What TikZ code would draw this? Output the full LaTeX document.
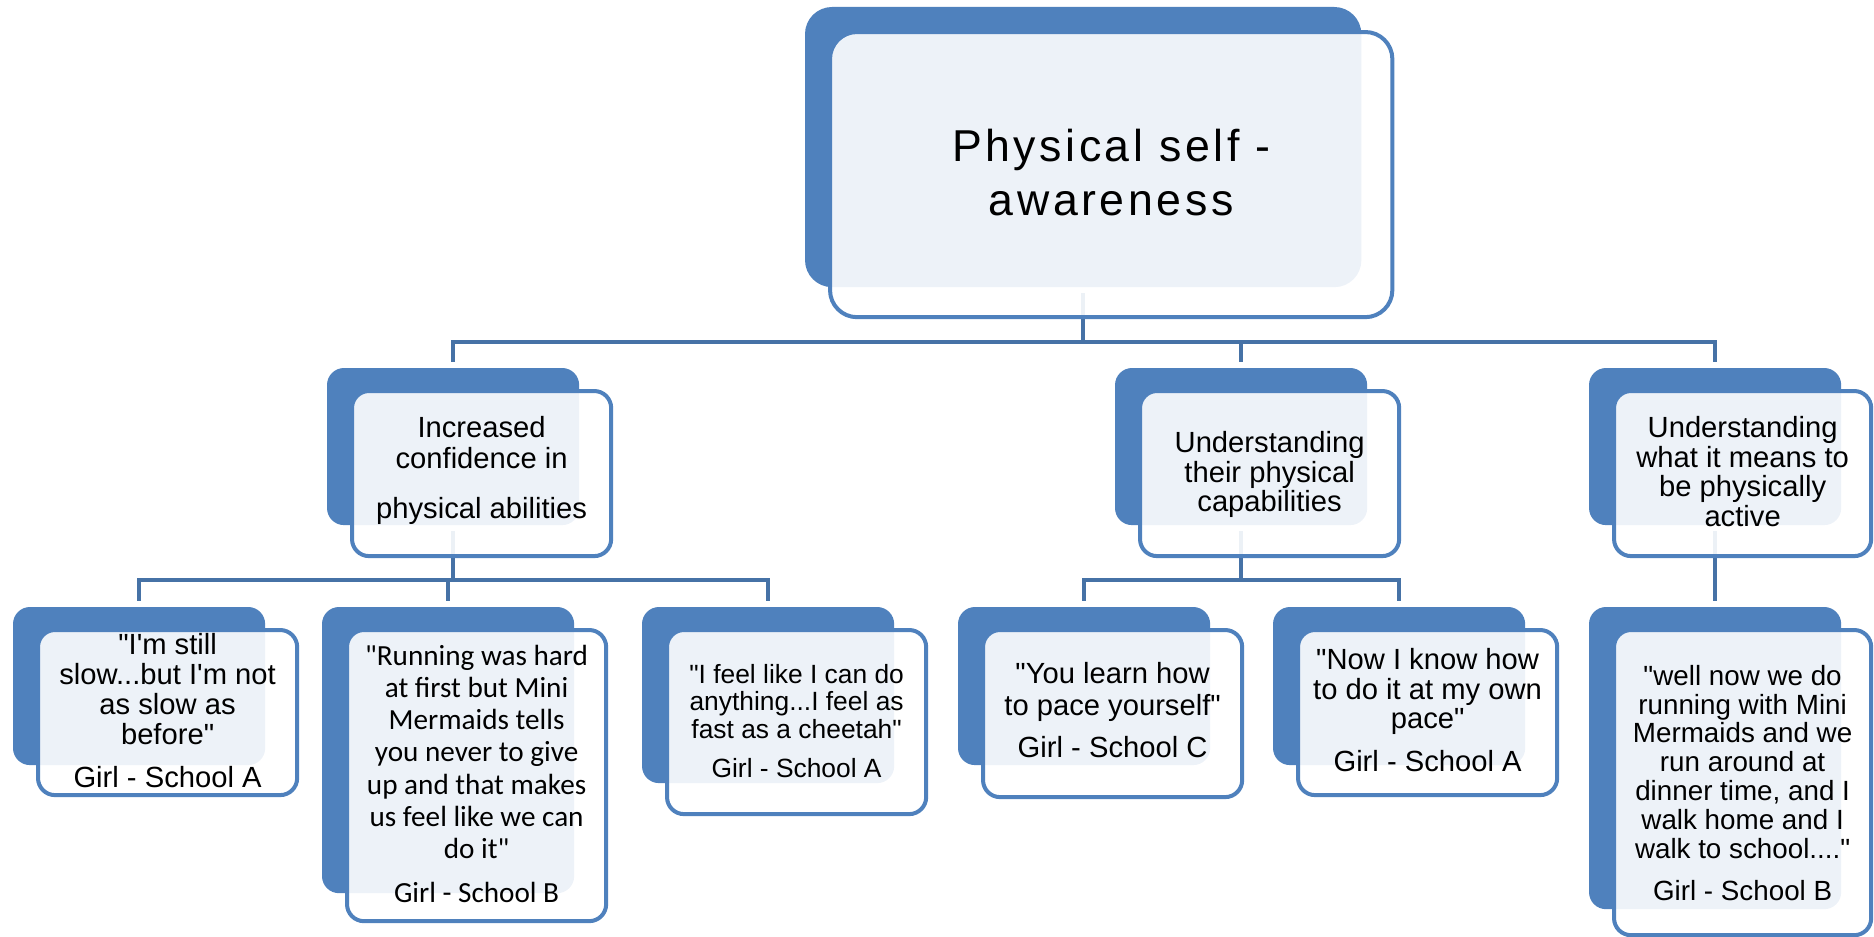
\documentclass[tikz,border=0pt]{standalone}
\usepackage{fontspec}
\newfontfamily\arialfont{Liberation Sans}
\newfontfamily\calibrifont{Carlito}
\newfontfamily\titlefont[LetterSpace=8]{Liberation Sans}
\usetikzlibrary{positioning}
\definecolor{boxblue}{HTML}{4F81BD}
\tikzset{
  backbox/.style={fill=boxblue, rounded corners=0.17cm, minimum width=2.52cm, inner sep=0, outer sep=0, anchor=north west},
  frontbox/.style={draw=boxblue, line width=0.04cm, fill=white, fill opacity=0.9, rounded corners=0.17cm, minimum width=2.59cm, inner sep=0, outer sep=0},
  link/.style={draw=boxblue!88!black, line width=0.04cm, shorten <=0.06cm, shorten >=0.06cm},
  txt/.style={align=center, inner sep=0, outer sep=0, font=\arialfont\fontsize{8.3}{8.6}\selectfont},
}
\begin{document}
\begin{tikzpicture}[x=0.01cm, y=-0.01cm]
\useasboundingbox (0,0) rectangle (1874,937);
% back boxes
\node[backbox, rounded corners=0.27cm, minimum width=5.56cm, minimum height=2.80cm] (self-b) at (805,7) {};
\node[backbox, minimum height=1.57cm] (conf-b) at (327,368) {};
\node[backbox, minimum height=1.57cm] (capab-b) at (1115,368) {};
\node[backbox, minimum height=1.57cm] (active-b) at (1589,368) {};
\node[backbox, minimum height=1.58cm] (slow-b) at (13,607) {};
\node[backbox, minimum height=2.86cm] (hard-b) at (322,607) {};
\node[backbox, minimum height=1.76cm] (cheetah-b) at (642,607) {};
\node[backbox, minimum height=1.58cm] (pace-b) at (958,607) {};
\node[backbox, minimum height=1.58cm] (own-b) at (1273,607) {};
\node[backbox, minimum height=3.02cm] (walk-b) at (1589,607) {};
% connectors
\coordinate (self-bar) at ([yshift=-0.55cm]self-b.south);
\coordinate (conf-bar) at ([yshift=-0.55cm]conf-b.south);
\coordinate (capab-bar) at ([yshift=-0.55cm]capab-b.south);
\draw[link] (self-b.south) -- (self-bar) -| (conf-b.north);
\draw[link] (self-b.south) -- (self-bar) -| (capab-b.north);
\draw[link] (self-b.south) -- (self-bar) -| (active-b.north);
\draw[link] (conf-b.south) -- (conf-bar) -| (slow-b.north);
\draw[link] (conf-b.south) -- (conf-bar) -| (hard-b.north);
\draw[link] (conf-b.south) -- (conf-bar) -| (cheetah-b.north);
\draw[link] (capab-b.south) -- (capab-bar) -| (pace-b.north);
\draw[link] (capab-b.south) -- (capab-bar) -| (own-b.north);
\draw[link] (active-b.south) -- (walk-b.north);
% front boxes
\node[frontbox, rounded corners=0.27cm, minimum width=5.62cm, minimum height=2.85cm, below right=0.25cm and 0.25cm of self-b.north west] (self) {};
\node[frontbox, minimum height=1.65cm, below right=0.23cm and 0.25cm of conf-b.north west] (conf) {};
\node[frontbox, minimum height=1.65cm, below right=0.23cm and 0.25cm of capab-b.north west] (capab) {};
\node[frontbox, minimum width=2.57cm, minimum height=1.65cm, below right=0.23cm and 0.25cm of active-b.north west] (active) {};
\node[frontbox, minimum height=1.65cm, below right=0.23cm and 0.25cm of slow-b.north west] (slow) {};
\node[frontbox, minimum height=2.91cm, below right=0.23cm and 0.25cm of hard-b.north west] (hard) {};
\node[frontbox, minimum height=1.84cm, below right=0.23cm and 0.25cm of cheetah-b.north west] (cheetah) {};
\node[frontbox, minimum height=1.67cm, below right=0.23cm and 0.25cm of pace-b.north west] (pace) {};
\node[frontbox, minimum height=1.65cm, below right=0.23cm and 0.25cm of own-b.north west] (own) {};
\node[frontbox, minimum width=2.57cm, minimum height=3.05cm, below right=0.23cm and 0.25cm of walk-b.north west] (walk) {};
% texts
\node[txt, font=\titlefont\fontsize{12.7}{15.1}\selectfont, below=0.975cm of self.north] (self-t) {Physical self -\\awareness};
\node[txt, font=\arialfont\fontsize{8.3}{8.8}\selectfont, below=0.25cm of conf.north] (conf-t) {Increased\\confidence in\\[5.4pt]physical abilities};
\node[txt, font=\arialfont\fontsize{8.3}{8.5}\selectfont, below=0.40cm of capab.north] (capab-t) {Understanding\\their physical\\capabilities};
\node[txt, font=\arialfont\fontsize{8.3}{8.5}\selectfont, below=0.25cm of active.north] (active-t) {Understanding\\what it means to\\be physically\\active};
\node[txt, below=0.03cm of slow.north] (slow-t) {"I'm still\\slow...but I'm not\\as slow as\\before"\\[3.6pt]Girl - School A};
\node[txt, font=\calibrifont\fontsize{8.3}{9.15}\selectfont, below=0.15cm of hard.north] (hard-t) {"Running was hard\\at first but Mini\\Mermaids tells\\you never to give\\up and that makes\\us feel like we can\\do it"\\[3.4pt]Girl - School B};
\node[txt, font=\arialfont\fontsize{7.5}{7.8}\selectfont, below=0.34cm of cheetah.north] (cheetah-t) {"I feel like I can do\\anything...I feel as\\fast as a cheetah"\\[3.3pt]Girl - School A};
\node[txt, font=\arialfont\fontsize{8.3}{9.1}\selectfont, below=0.32cm of pace.north] (pace-t) {"You learn how\\to pace yourself"\\[2.8pt]Girl - School C};
\node[txt, font=\arialfont\fontsize{8.3}{8.5}\selectfont, below=0.18cm of own.north] (own-t) {"Now I know how\\to do it at my own\\pace"\\[3.7pt]Girl - School A};
\node[txt, font=\arialfont\fontsize{7.9}{8.2}\selectfont, below=0.35cm of walk.north] (walk-t) {"well now we do\\running with Mini\\Mermaids and we\\run around at\\dinner time, and I\\walk home and I\\walk to school...."\\[3.7pt]Girl - School B};
\end{tikzpicture}
\end{document}
